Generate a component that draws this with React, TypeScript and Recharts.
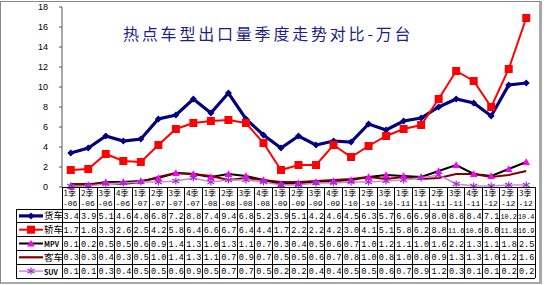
import { LineChart, Line, XAxis, YAxis } from 'recharts'

// quarter labels (the source repeats "1季-11" — kept as drawn)
const quarters = [
  '1季', '2季', '3季', '4季', '1季', '2季', '3季', '4季', '1季', '2季', '3季', '4季',
  '1季', '2季', '3季', '4季', '1季', '2季', '3季', '1季', '1季', '2季', '3季', '4季',
  '1季', '2季', '3季',
]
const years = [
  '-06', '-06', '-06', '-06', '-07', '-07', '-07', '-07', '-08', '-08', '-08', '-08',
  '-09', '-09', '-09', '-09', '-10', '-10', '-10', '-11', '-11', '-11', '-11', '-11',
  '-12', '-12', '-12',
]

const truck = [3.4, 3.9, 5.1, 4.6, 4.8, 6.8, 7.2, 8.8, 7.4, 9.4, 6.8, 5.2, 3.9, 5.1, 4.2, 4.6, 4.5, 6.3, 5.7, 6.6, 6.9, 8.0, 8.8, 8.4, 7.1, 10.2, 10.4]
const sedan = [1.7, 1.8, 3.3, 2.6, 2.5, 4.2, 5.8, 6.4, 6.6, 6.7, 6.4, 4.4, 1.7, 2.2, 2.2, 4.2, 3.0, 4.1, 5.1, 5.8, 6.2, 8.8, 11.6, 10.6, 8.0, 11.8, 16.9]
const mpv = [0.1, 0.2, 0.5, 0.5, 0.6, 0.9, 1.4, 1.3, 1.0, 1.3, 1.1, 0.7, 0.3, 0.4, 0.5, 0.6, 0.7, 1.0, 1.2, 1.1, 1.0, 1.6, 2.2, 1.3, 1.1, 1.8, 2.5]
const bus = [0.3, 0.3, 0.4, 0.3, 0.5, 1.0, 1.4, 1.3, 1.1, 0.7, 0.9, 0.7, 0.5, 0.5, 0.6, 0.7, 0.8, 1.0, 0.8, 1.0, 0.8, 0.9, 1.3, 1.3, 1.0, 1.2, 1.6]
const suv = [0.1, 0.1, 0.3, 0.4, 0.5, 0.5, 0.6, 0.9, 0.5, 0.7, 0.7, 0.5, 0.2, 0.2, 0.4, 0.4, 0.5, 0.5, 0.6, 0.7, 0.9, 1.2, 0.3, 0.1, 0.1, 0.2, 0.2]

const yTicks = [0, 2, 4, 6, 8, 10, 12, 14, 16, 18]

const data = quarters.map((q, i) => ({
  idx: i,
  truck: truck[i],
  sedan: sedan[i],
  mpv: mpv[i],
  bus: bus[i],
  suv: suv[i],
}))

// layout of the data table under the plot
const PLOT_LEFT = 62
const PLOT_RIGHT = 535
const CW = (PLOT_RIGHT - PLOT_LEFT) / quarters.length
const TABLE_TOP = 187
const HEAD_H = 22
const ROW_H = 13.8
const LEGEND_LEFT = 16

const diamond = (color: string, r: number) => (p: any) => (
  <path key={`d${p.index}`} d={`M${p.cx},${p.cy - r}L${p.cx + r},${p.cy}L${p.cx},${p.cy + r}L${p.cx - r},${p.cy}Z`} fill={color} />
)
const square = (color: string, r: number) => (p: any) => (
  <rect key={`s${p.index}`} x={p.cx - r} y={p.cy - r} width={r * 2} height={r * 2} fill={color} />
)
const triangle = (color: string, r: number) => (p: any) => (
  <path key={`t${p.index}`} d={`M${p.cx},${p.cy - r}L${p.cx + r},${p.cy + r * 0.8}L${p.cx - r},${p.cy + r * 0.8}Z`} fill={color} />
)
const star = (color: string, r: number) => (p: any) => (
  <g key={`a${p.index}`} stroke={color} strokeWidth={1.2}>
    <line x1={p.cx} y1={p.cy - r} x2={p.cx} y2={p.cy + r} />
    <line x1={p.cx - r} y1={p.cy - r * 0.6} x2={p.cx + r} y2={p.cy + r * 0.6} />
    <line x1={p.cx - r} y1={p.cy + r * 0.6} x2={p.cx + r} y2={p.cy - r * 0.6} />
  </g>
)

const series = [
  { key: 'truck', name: '货车', values: truck, color: '#000080', width: 3.2, dot: diamond('#000080', 3.5) },
  { key: 'sedan', name: '轿车', values: sedan, color: '#ff0000', width: 2, dot: square('#ff0000', 4) },
  { key: 'mpv', name: 'MPV', values: mpv, color: '#000000', width: 2, dot: triangle('#ff00ff', 3.8) },
  { key: 'bus', name: '客车', values: bus, color: '#800000', width: 2.2, dot: null },
  { key: 'suv', name: 'SUV', values: suv, color: '#cc88dd', width: 1.5, dot: star('#9933cc', 3.5) },
]

const tableFont = '"Liberation Mono", "DejaVu Sans Mono", monospace'
const cjkFont = '"Noto Sans CJK SC", sans-serif'

function TableColumn(props: any) {
  const { x, payload } = props
  const i = payload?.index ?? props.index ?? 0
  const left = x - CW / 2
  const bottom = TABLE_TOP + HEAD_H + series.length * ROW_H
  return (
    <g>
      <g stroke="#000" strokeWidth={1} shapeRendering="crispEdges">
        <line x1={left} y1={TABLE_TOP} x2={left + CW} y2={TABLE_TOP} />
        <line x1={left} y1={TABLE_TOP} x2={left} y2={bottom} />
        <line x1={left + CW} y1={TABLE_TOP} x2={left + CW} y2={bottom} />
        {series.map((s, r) => (
          <line key={s.key} x1={left} y1={TABLE_TOP + HEAD_H + r * ROW_H} x2={left + CW} y2={TABLE_TOP + HEAD_H + r * ROW_H} />
        ))}
        <line x1={left} y1={bottom} x2={left + CW} y2={bottom} />
      </g>
      <text x={left + 1.5} y={TABLE_TOP + 9} textAnchor="start" fontSize={8} fontFamily={cjkFont} fill="#000">
        {quarters[i]}
      </text>
      <text x={left + 1} y={TABLE_TOP + 19} textAnchor="start" fontSize={8} fontFamily={tableFont} fill="#000">
        {years[i]}
      </text>
      {series.map((s, r) => {
        const label = s.values[i].toFixed(1)
        const wide = label.length > 3
        return (
          <text
            key={s.key}
            x={left + (wide ? 0.5 : 1.5)}
            y={TABLE_TOP + HEAD_H + r * ROW_H + 10}
            textAnchor="start"
            fontSize={wide ? 6.8 : 8.5}
            fontFamily={tableFont}
            fill="#000"
          >
            {label}
          </text>
        )
      })}
      {i === 0 && (
        <g>
          <g stroke="#000" strokeWidth={1} shapeRendering="crispEdges">
            {series.map((s, r) => (
              <line key={s.key} x1={LEGEND_LEFT} y1={TABLE_TOP + HEAD_H + r * ROW_H} x2={left} y2={TABLE_TOP + HEAD_H + r * ROW_H} />
            ))}
            <line x1={LEGEND_LEFT} y1={bottom} x2={left} y2={bottom} />
            <line x1={LEGEND_LEFT} y1={TABLE_TOP + HEAD_H} x2={LEGEND_LEFT} y2={bottom} />
          </g>
          {series.map((s, r) => {
            const cy = TABLE_TOP + HEAD_H + r * ROW_H + ROW_H / 2
            const cx = LEGEND_LEFT + 15
            return (
              <g key={s.key}>
                <line x1={LEGEND_LEFT + 3} y1={cy} x2={LEGEND_LEFT + 27} y2={cy} stroke={s.color} strokeWidth={s.width} />
                {s.dot && s.dot({ cx, cy, index: `l${r}` })}
                <text
                  x={LEGEND_LEFT + 28}
                  y={cy + 3.5}
                  textAnchor="start"
                  fontSize={s.name.length > 2 ? 7 : 9.5}
                  fontWeight={s.name.length > 2 ? 700 : 400}
                  fontFamily={cjkFont}
                  fill="#000"
                >
                  {s.name}
                </text>
              </g>
            )
          })}
        </g>
      )}
    </g>
  )
}

export default function App() {
  return (
    <div style={{ position: 'absolute', left: 0, top: 0, width: 550, height: 285, background: '#fff' }}>
      <div
        style={{
          position: 'absolute',
          left: 0,
          top: 1,
          width: 538,
          height: 280,
          borderTop: '1px solid #888',
          borderLeft: '1px solid #888',
          borderRight: '3px solid #a8a8a8',
          borderBottom: '2px solid #a8a8a8',
        }}
      />
      <LineChart width={550} height={285} data={data} margin={{ top: 7, right: 15, left: 0, bottom: 0 }}>
        <XAxis
          dataKey="idx"
          interval={0}
          axisLine={false}
          tickLine={false}
          height={98}
          padding={{ left: CW / 2, right: CW / 2 }}
          tick={<TableColumn />}
        />
        <YAxis
          domain={[0, 18]}
          ticks={yTicks}
          width={62}
          tickSize={3}
          tickMargin={11}
          stroke="#555"
          tick={{ fontSize: 9, fill: '#000', fontFamily: '"Liberation Sans", Arial, sans-serif' }}
        />
        {series.map((s) => (
          <Line
            key={s.key}
            dataKey={s.key}
            stroke={s.color}
            strokeWidth={s.width}
            dot={s.dot ? s.dot : false}
            activeDot={false}
            isAnimationActive={false}
            strokeLinejoin="miter"
          />
        ))}
      </LineChart>
      <div
        style={{
          position: 'absolute',
          left: 123,
          top: 21,
          fontSize: 16,
          letterSpacing: 2.8,
          color: '#1c1c8c',
          fontFamily: cjkFont,
          whiteSpace: 'nowrap',
        }}
      >
        热点车型出口量季度走势对比-万台
      </div>
    </div>
  )
}
